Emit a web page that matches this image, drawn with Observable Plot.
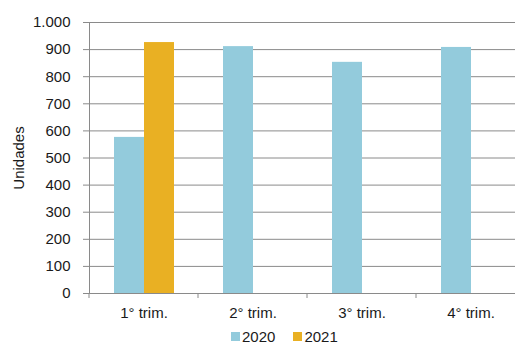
<!DOCTYPE html>
<html>
<head>
<meta charset="utf-8">
<script src="https://cdn.jsdelivr.net/npm/d3@7"></script>
<script src="https://cdn.jsdelivr.net/npm/@observablehq/plot@0.6"></script>
<style>
  html, body { margin: 0; padding: 0; background: white; overflow: hidden; }
  body { width: 515px; font-family: "Liberation Sans", Arial, sans-serif; color: #1a1a1a; }
  #legend { display: flex; align-items: center; gap: 18px; padding-left: 231px; height: 22px; font-size: 15px; }
  #legend .item { display: flex; align-items: center; gap: 2px; }
  #legend .sw { width: 9px; height: 9px; display: inline-block; }
</style>
</head>
<body>
<div id="chart"></div>
<div id="legend"></div>
<script>
// Data
const quarters = ["1° trim.", "2° trim.", "3° trim.", "4° trim."];
const years = ["2020", "2021"];
const values2020 = [576, 911, 853, 908];
const values2021 = [926, null, null, null];
const yTicks = [0, 100, 200, 300, 400, 500, 600, 700, 800, 900, 1000];
const yLabel = "Unidades";
const colors = ["#93cbdc", "#e9b023"];

const rows = [];
quarters.forEach((q, i) => {
  if (values2020[i] != null) rows.push({quarter: q, year: years[0], value: values2020[i]});
  if (values2021[i] != null) rows.push({quarter: q, year: years[1], value: values2021[i]});
});

const fmt = d3.formatLocale({decimal: ",", thousands: ".", grouping: [3], currency: ["", " €"]}).format(",");
const axisColor = "#8a8a8a";

// small tick marks at the category boundaries (left edge of each facet)
function boundaryTicks(index, scales, values, dimensions) {
  const y0 = scales.y(0);
  const x0 = dimensions.marginLeft;
  const g = d3.create("svg:g");
  g.append("line")
    .attr("x1", x0).attr("x2", x0)
    .attr("y1", y0).attr("y2", y0 + 5)
    .attr("stroke", axisColor);
  return g.node();
}

const chart = Plot.plot({
  width: 515,
  height: 325,
  marginLeft: 89,
  marginRight: -10,
  marginTop: 22,
  marginBottom: 32,
  style: {fontFamily: "'Liberation Sans', Arial, sans-serif", fontSize: "15px", color: "#1a1a1a", background: "white", overflow: "hidden"},
  fx: {domain: quarters, padding: 0, label: null},
  x: {domain: years, paddingInner: 0, paddingOuter: 0.76, axis: null},
  y: {domain: [0, 1000], label: null},
  color: {domain: years, range: colors},
  marks: [
    Plot.gridY(yTicks, {stroke: axisColor, strokeOpacity: 1, strokeWidth: 1}),
    Plot.barY(rows, {fx: "quarter", x: "year", y: "value", fill: "year"}),
    Plot.ruleY([0], {stroke: axisColor}),
    Plot.frame({anchor: "left", facet: "super", stroke: axisColor}),
    Plot.axisY({ticks: yTicks, tickFormat: fmt, tickSize: 6, tickPadding: 13, stroke: axisColor, strokeOpacity: 1,
      label: yLabel, labelAnchor: "center", labelArrow: "none", labelOffset: 76}),
    Plot.axisFx({anchor: "bottom", tickSize: 0, tickPadding: 14, label: null}),
    boundaryTicks
  ]
});
document.getElementById("chart").appendChild(chart);

const color = chart.scale("color");
const legend = d3.select("#legend");
years.forEach(y => {
  const item = legend.append("div").attr("class", "item");
  item.append("span").attr("class", "sw").style("background", color.apply ? color.apply(y) : colors[years.indexOf(y)]);
  item.append("span").text(y);
});
</script>
</body>
</html>
